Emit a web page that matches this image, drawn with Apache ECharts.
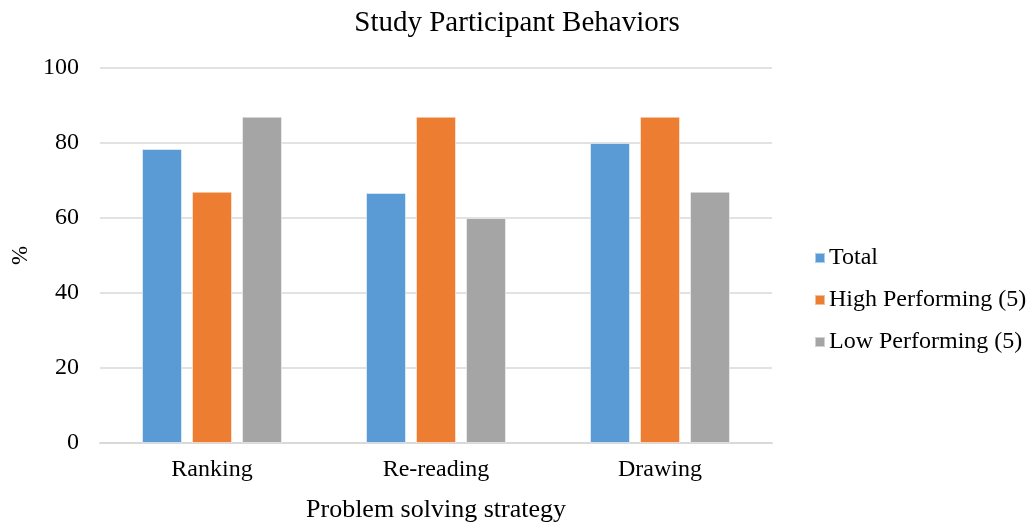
<!DOCTYPE html>
<html>
<head>
<meta charset="utf-8">
<script src="https://cdn.jsdelivr.net/npm/echarts@6/dist/echarts.min.js"></script>
<style>
  html, body { margin: 0; padding: 0; background: #fff; }
  #chart { width: 1030px; height: 524px; }
</style>
</head>
<body>
<div id="chart"></div>
<script>
// Share of participants (%) using each problem solving strategy
const categories = ['Ranking', 'Re-reading', 'Drawing'];
const totalValues = [78.4, 66.7, 80];
const highValues = [67, 87, 87];
const lowValues = [87, 60, 67];
const seriesNames = ['Total', 'High Performing (5)', 'Low Performing (5)'];
const colors = ['#5b9bd5', '#ed7d31', '#a5a5a5'];

const font = '"Liberation Serif", "Times New Roman", serif';

const chart = echarts.init(document.getElementById('chart'));

const makeSeries = (name, data, color) => ({
  name: name,
  type: 'bar',
  data: data,
  barWidth: 40,
  barGap: '25%',
  itemStyle: { color: color, borderColor: 'rgba(255,255,255,0.5)', borderWidth: 1 }
});

chart.setOption({
  animation: false,
  color: colors,
  title: {
    text: 'Study Participant Behaviors',
    left: 512,
    textAlign: 'center',
    top: 4,
    textStyle: { fontFamily: font, fontSize: 29, fontWeight: 'normal', color: '#000' }
  },
  legend: {
    orient: 'vertical',
    left: 809,
    top: 241,
    itemWidth: 10,
    itemHeight: 10,
    itemGap: 18,
    icon: 'rect',
    textStyle: { fontFamily: font, fontSize: 24, color: '#000', padding: [0, 0, 0, -1] },
    data: seriesNames
  },
  grid: { left: 100, right: 258, top: 68, bottom: 81, outerBoundsMode: 'none' },
  xAxis: {
    type: 'category',
    data: categories,
    name: 'Problem solving strategy',
    nameLocation: 'middle',
    nameGap: 54,
    nameTextStyle: { fontFamily: font, fontSize: 26, color: '#000' },
    axisLine: { lineStyle: { color: '#d9d9d9', width: 2 } },
    axisTick: { show: false },
    axisLabel: { fontFamily: font, fontSize: 24, color: '#000', margin: 15 }
  },
  yAxis: {
    type: 'value',
    min: 0,
    max: 100,
    interval: 20,
    name: '%',
    nameLocation: 'middle',
    nameGap: 68,
    nameTextStyle: { fontFamily: font, fontSize: 23, color: '#000' },
    axisLine: { show: false },
    axisTick: { show: false },
    axisLabel: { fontFamily: font, fontSize: 24, color: '#000', margin: 21 },
    splitLine: { lineStyle: { color: '#d9d9d9', width: 1.5 } }
  },
  series: [
    makeSeries(seriesNames[0], totalValues, colors[0]),
    makeSeries(seriesNames[1], highValues, colors[1]),
    makeSeries(seriesNames[2], lowValues, colors[2])
  ]
});
</script>
</body>
</html>
